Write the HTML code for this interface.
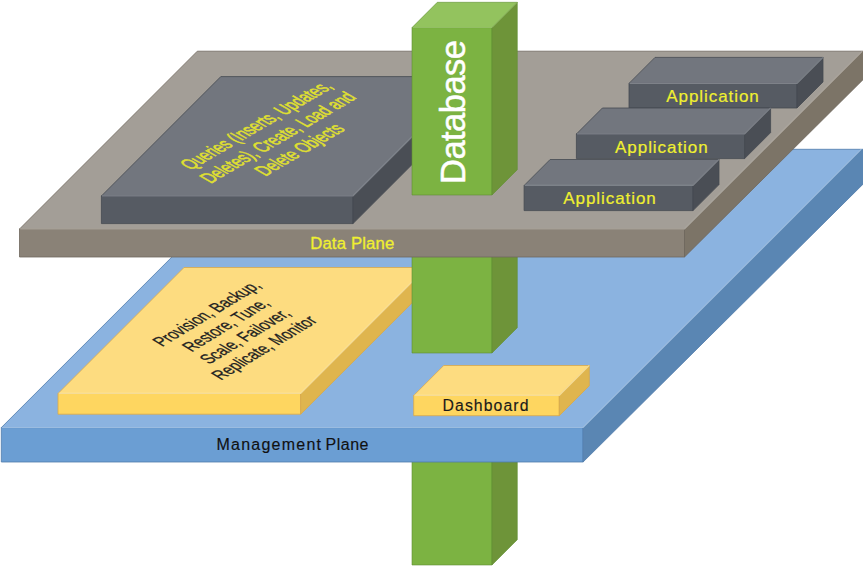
<!DOCTYPE html>
<html><head><meta charset="utf-8">
<style>
html,body{margin:0;padding:0;background:#fff;width:863px;height:566px;overflow:hidden}
svg{display:block}
text{font-family:"Liberation Sans",sans-serif}
</style></head>
<body>
<svg width="863" height="566" viewBox="0 0 863 566">
<g stroke="#5f8f33" stroke-width="0.6" stroke-linejoin="round"><polygon points="412.00,300.00 492.00,300.00 492.00,565.00 412.00,565.00" fill="#7cb342"/><polygon points="492.00,300.00 517.30,274.70 517.30,539.70 492.00,565.00" fill="#6e9439"/></g>
<g stroke="#4f7bab" stroke-width="0.8" stroke-linejoin="round"><polygon points="279.60,149.30 861.40,149.30 583.10,427.60 1.30,427.60" fill="#8bb3e0"/><polygon points="1.30,427.60 583.10,427.60 583.10,462.00 1.30,462.00" fill="#6b9ed3"/><polygon points="583.10,427.60 861.40,149.30 863.50,149.30 863.50,183.70 583.10,462.00" fill="#5a86b3"/></g>
<polyline points="1.90,427.50 583.10,427.50 861.40,149.20" fill="none" stroke="#b8d4f2" stroke-width="1.2" stroke-opacity="0.7"/>
<g stroke="#d9a84a" stroke-width="0.8" stroke-linejoin="round"><polygon points="184.00,267.50 426.70,267.50 300.70,393.50 58.00,393.50" fill="#fddc80"/><polygon points="58.00,393.50 300.70,393.50 300.70,414.20 58.00,414.20" fill="#fed660"/><polygon points="300.70,393.50 426.70,267.50 426.70,288.20 300.70,414.20" fill="#dfb54e"/></g>
<polyline points="58.60,393.40 300.70,393.40 426.70,267.40" fill="none" stroke="#fff0b8" stroke-width="1.2" stroke-opacity="0.7"/>
<g stroke="#5f8f33" stroke-width="0.6" stroke-linejoin="round"><polygon points="412.00,170.00 492.00,170.00 492.00,353.00 412.00,353.00" fill="#7cb342"/><polygon points="492.00,170.00 517.30,144.70 517.30,327.70 492.00,353.00" fill="#6e9439"/></g>
<g stroke="#d9a84a" stroke-width="0.8" stroke-linejoin="round"><polygon points="443.70,365.50 589.30,365.50 559.30,395.50 413.70,395.50" fill="#fddc80"/><polygon points="413.70,395.50 559.30,395.50 559.30,415.70 413.70,415.70" fill="#fed660"/><polygon points="559.30,395.50 589.30,365.50 589.30,385.70 559.30,415.70" fill="#dfb54e"/></g>
<polyline points="414.30,395.40 559.30,395.40 589.30,365.40" fill="none" stroke="#fff0b8" stroke-width="1.2" stroke-opacity="0.7"/>
<g stroke="#6e675d" stroke-width="0.8" stroke-linejoin="round"><polygon points="197.30,51.20 862.30,51.20 684.50,229.00 19.50,229.00" fill="#a39e97"/><polygon points="19.50,229.00 684.50,229.00 684.50,257.00 19.50,257.00" fill="#8a8277"/><polygon points="684.50,229.00 862.30,51.20 863.50,51.20 863.50,79.20 684.50,257.00" fill="#7c7467"/></g>
<polyline points="20.10,228.90 684.50,228.90 862.30,51.10" fill="none" stroke="#c4bfb6" stroke-width="1.2" stroke-opacity="0.7"/>
<g stroke="#454a52" stroke-width="0.8" stroke-linejoin="round"><polygon points="220.80,76.60 472.40,76.60 353.00,196.00 101.40,196.00" fill="#72767e"/><polygon points="101.40,196.00 353.00,196.00 353.00,223.60 101.40,223.60" fill="#565b63"/><polygon points="353.00,196.00 472.40,76.60 472.40,104.20 353.00,223.60" fill="#4a4e55"/></g>
<polyline points="102.00,195.90 353.00,195.90 472.40,76.50" fill="none" stroke="#9499a0" stroke-width="1.2" stroke-opacity="0.7"/>
<g stroke="#454a52" stroke-width="0.8" stroke-linejoin="round"><polygon points="655.00,57.40 823.00,57.40 797.00,83.40 629.00,83.40" fill="#72767e"/><polygon points="629.00,83.40 797.00,83.40 797.00,108.00 629.00,108.00" fill="#565b63"/><polygon points="797.00,83.40 823.00,57.40 823.00,82.00 797.00,108.00" fill="#4a4e55"/></g>
<polyline points="629.60,83.30 797.00,83.30 823.00,57.30" fill="none" stroke="#9499a0" stroke-width="1.2" stroke-opacity="0.7"/>
<g stroke="#454a52" stroke-width="0.8" stroke-linejoin="round"><polygon points="602.40,108.00 770.60,108.00 744.60,134.00 576.40,134.00" fill="#72767e"/><polygon points="576.40,134.00 744.60,134.00 744.60,158.60 576.40,158.60" fill="#565b63"/><polygon points="744.60,134.00 770.60,108.00 770.60,132.60 744.60,158.60" fill="#4a4e55"/></g>
<polyline points="577.00,133.90 744.60,133.90 770.60,107.90" fill="none" stroke="#9499a0" stroke-width="1.2" stroke-opacity="0.7"/>
<g stroke="#454a52" stroke-width="0.8" stroke-linejoin="round"><polygon points="550.10,159.50 719.00,159.50 693.00,185.50 524.10,185.50" fill="#72767e"/><polygon points="524.10,185.50 693.00,185.50 693.00,210.60 524.10,210.60" fill="#565b63"/><polygon points="693.00,185.50 719.00,159.50 719.00,184.60 693.00,210.60" fill="#4a4e55"/></g>
<polyline points="524.70,185.40 693.00,185.40 719.00,159.40" fill="none" stroke="#9499a0" stroke-width="1.2" stroke-opacity="0.7"/>
<g stroke="#5f8f33" stroke-width="0.6" stroke-linejoin="round"><polygon points="437.30,2.30 517.30,2.30 492.00,27.60 412.00,27.60" fill="#93c35e"/><polygon points="412.00,27.60 492.00,27.60 492.00,195.00 412.00,195.00" fill="#7cb342"/><polygon points="492.00,27.60 517.30,2.30 517.30,169.70 492.00,195.00" fill="#6e9439"/></g>
<polyline points="412.60,27.50 492.00,27.50 517.30,2.20" fill="none" stroke="#b5dc88" stroke-width="1" stroke-opacity="0.5"/>
<text transform="translate(464.7,112) rotate(-90)" text-anchor="middle" font-size="34.5" fill="#fff" stroke="#fff" stroke-width="0.5" textLength="144" lengthAdjust="spacing">Database</text>
<text x="352.2" y="249" text-anchor="middle" font-size="16.7" fill="#f0f030" stroke="#f0f030" stroke-width="0.3" textLength="84" lengthAdjust="spacing">Data Plane</text>
<text x="216.5" y="450.3" font-size="16" fill="#111" stroke="#111" stroke-width="0.15" textLength="104.5" lengthAdjust="spacing">Management</text>
<text x="325.5" y="450.3" font-size="16" fill="#111" stroke="#111" stroke-width="0.15" textLength="43" lengthAdjust="spacing">Plane</text>
<g fill="#f0f030" stroke="#f0f030" stroke-width="0.2" font-size="17">
<text x="666.3" y="101.8" textLength="92.5" lengthAdjust="spacing">Application</text>
<text x="615.1" y="152.6" textLength="92.5" lengthAdjust="spacing">Application</text>
<text x="563.3" y="203.9" textLength="92.5" lengthAdjust="spacing">Application</text>
</g>
<text x="442.5" y="410.6" font-size="15.8" fill="#1a1a1a" stroke="#1a1a1a" stroke-width="0.15" textLength="86" lengthAdjust="spacing">Dashboard</text>
<g transform="matrix(0.8145,-0.4752,1.0863,0.6095,284.02,140.9)" fill="#e0e030" stroke="#e0e030" stroke-width="0.5" font-size="16.80" text-anchor="middle">
<text transform="translate(0,-19.93) scale(0.8929,1)">Queries (Inserts, Updates,</text>
<text transform="translate(0,0.00) scale(0.8929,1)">Deletes), Create, Load and</text>
<text transform="translate(0,19.93) scale(0.8929,1)">Delete Objects</text>
</g>
<g transform="matrix(0.8053,-0.4885,0.9617,0.5713,240.91,333.85)" fill="#222" stroke="#222" stroke-width="0.3" font-size="16.80" text-anchor="middle">
<text transform="translate(0,-29.89) scale(0.8929,1)">Provision, Backup,</text>
<text transform="translate(0,-9.96) scale(0.8929,1)">Restore, Tune,</text>
<text transform="translate(0,9.96) scale(0.8929,1)">Scale, Failover,</text>
<text transform="translate(0,29.89) scale(0.8929,1)">Replicate, Monitor</text>
</g>
</svg>
</body></html>
